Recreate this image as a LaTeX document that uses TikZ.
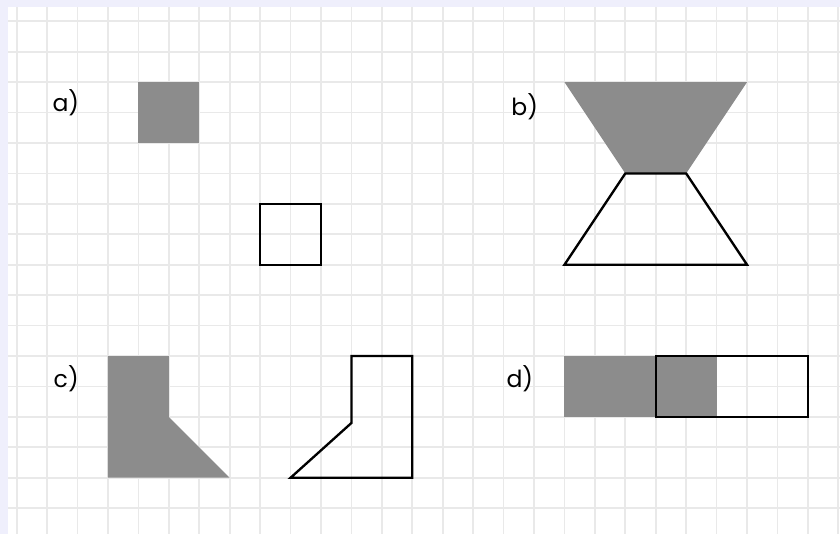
\documentclass[tikz,border=0pt]{standalone}
\usepackage{fontspec}
\setmainfont{Poppins}
\definecolor{lavender}{RGB}{239,239,252}
\definecolor{figgrey}{RGB}{140,140,140}
\definecolor{gridgrey}{RGB}{233,233,233}
\tikzset{%
gridline/.style={draw=gridgrey, line width=1.6pt},
greyfig/.style={fill=figgrey},
outfig/.style={draw=black, line width=2.2pt, line join=miter},
lbl/.style={anchor=base west, inner sep=0pt, font=\fontsize{22}{26}\selectfont}
}

\begin{document}
\begin{tikzpicture}
		\useasboundingbox (-0.549,0.700) rectangle (27.056,-16.849);
		\fill[lavender] (-0.549,0.700) rectangle (27.056,-16.849);
		\fill[white] (-0.286,0.454) rectangle (27.056,-16.849);
		\begin{scope}
			\clip (-0.286,0.454) rectangle (27.056,-16.849);
			\foreach \c in {0,...,27} \draw[gridline] (\c,0.454) -- (\c,-16.849);
			\foreach \r in {0,...,16} \draw[gridline] (-0.286,-\r) -- (27.056,-\r);
		\end{scope}
		
		% a)
		\node[lbl] (la) at (1.17,-2.96) {a)};
		\fill[greyfig] (4,-2) rectangle (6,-4);
		\draw[outfig] (8,-6) rectangle (10,-8);
		
		% b)
		\node[lbl] (lb) at (16.25,-3.08) {b)};
		\fill[greyfig] (18,-2) -- (24,-2) -- (22,-5) -- (20,-5) -- cycle;
		\draw[outfig] (20,-5) -- (22,-5) -- (24,-8) -- (18,-8) -- cycle;
		
		% c)
		\node[lbl] (lc) at (1.21,-12.02) {c)};
		\fill[greyfig] (3,-11) -- (5,-11) -- (5,-13) -- (7,-15) -- (3,-15) -- cycle;
		\draw[outfig] (11,-11) -- (13,-11) -- (13,-15) -- (9,-15) -- (11,-13.2) -- cycle;
		
		% d)
		\node[lbl] (ld) at (16.09,-12.02) {d)};
		\fill[greyfig] (18,-11) rectangle (23,-13);
		\draw[outfig] (21,-11) rectangle (26,-13);
\end{tikzpicture}
\end{document}
